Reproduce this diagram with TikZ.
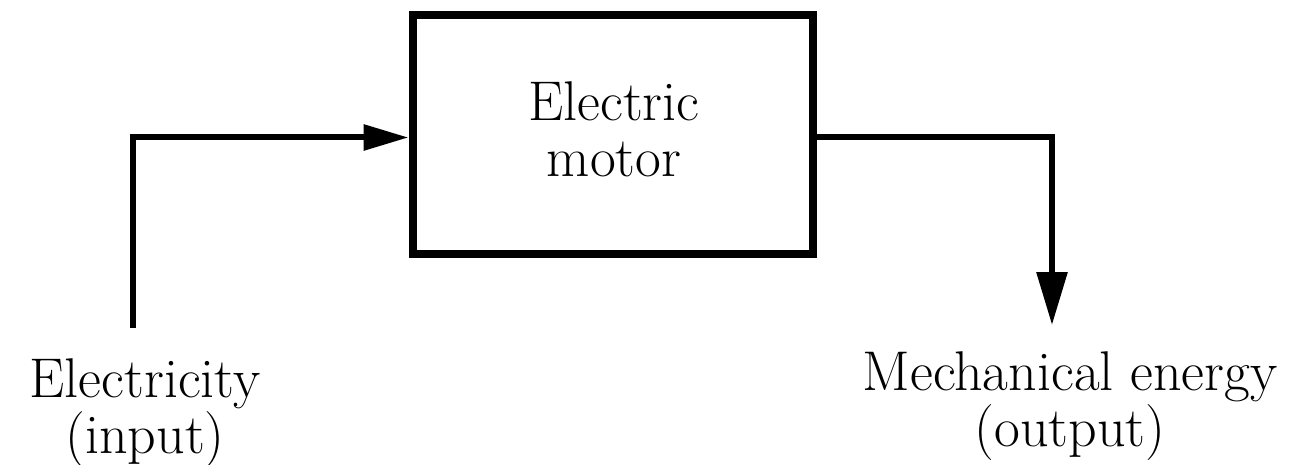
\documentclass[tikz,border=0pt]{standalone}
\usetikzlibrary{arrows.meta}
\begin{document}
\begin{tikzpicture}[x=0.5pt,y=-0.5pt,
  blockbox/.style={draw=black, line width=4pt, minimum width=200pt, minimum height=119.5pt, inner sep=0pt, line join=miter},
  lbl/.style={font=\fontsize{28}{28}\selectfont, align=center, inner sep=0pt},
  conn/.style={line width=3pt, line join=miter, line cap=butt},
  intip/.style={-{Triangle[length=22.5pt,width=12.5pt]}},
  outtip/.style={-{Triangle[length=26.5pt,width=15pt]}}]
\useasboundingbox (0,0) rectangle (1313,465);
\node[blockbox] (motor) at (612.5,134.5) {};
\node[lbl] (mtxt) at (614,129) {Electric\\motor};
\node[lbl, anchor=base] (inlbl) at (145,453) {Electricity\\(input)};
\node[lbl, anchor=base] (outlbl) at (1070,446) {Mechanical energy\\(output)};
\coordinate (inS) at (133,328);
\coordinate (outE) at (1052,325);
\draw[conn, intip] (inS) |- ([yshift=-1.5pt]motor.west);
\draw[conn, outtip] ([yshift=-1.5pt]motor.east) -| (outE);
\end{tikzpicture}
\end{document}
